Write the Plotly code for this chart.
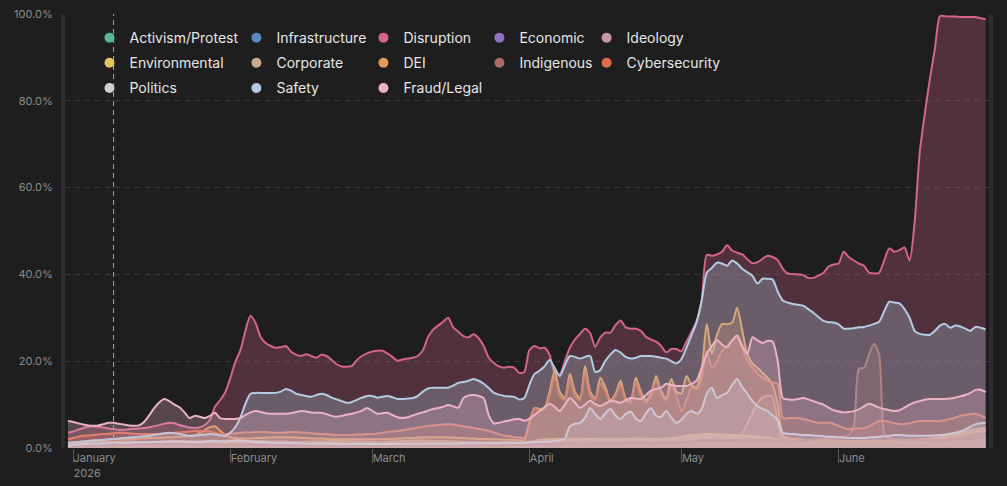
import pandas as pd
import plotly.graph_objects as go

# daily dates (Dec 31 2025 .. Jun 30 2026) for the main series
days = pd.date_range("2025-12-31", "2026-06-30", freq="D")
# ~2-day grid for the small series
days2 = pd.date_range("2025-12-31", "2026-06-30", periods=91)

disruption = [
    3.5, 3.8, 4.2, 4.6, 4.9, 5.0, 4.9, 4.7, 4.5, 4.3, 4.2,
    4.2, 4.3, 4.4, 4.5, 4.6, 4.8, 5.0, 5.3, 5.6, 5.8,
    5.7, 5.3, 5.0, 4.7, 4.6, 4.8, 5.3, 6.5, 9.5, 11.0,
    12.8, 16.0, 19.8, 22.5, 27.0, 30.5, 28.8, 25.6, 24.2, 23.5,
    23.1, 23.2, 23.5, 22.2, 21.5, 21.2, 21.6, 21.2, 20.8, 21.5,
    21.2, 20.3, 19.3, 18.8, 18.7, 18.9, 20.3, 21.2, 21.8, 22.2,
    22.4, 22.4, 21.8, 21.0, 20.1, 20.4, 20.6, 20.8, 21.2, 22.5,
    25.5, 27.2, 28.2, 29.1, 30.0, 27.8, 26.8, 25.8, 25.5, 26.2,
    25.3, 23.5, 20.8, 19.6, 18.8, 18.5, 18.7, 18.5, 17.3, 17.5,
    22.5, 23.5, 23.0, 23.1, 21.5, 17.3, 17.0, 20.0, 23.1, 25.0,
    26.3, 27.5, 26.5, 23.3, 25.5, 26.6, 26.6, 28.3, 29.4, 27.8,
    27.5, 27.5, 27.0, 25.6, 25.0, 24.5, 23.5, 22.0, 22.8, 22.8,
    22.3, 24.5, 26.8, 29.3, 34.0, 44.5, 44.3, 44.6, 45.2, 46.7,
    45.5, 45.0, 44.6, 43.5, 42.6, 42.8, 43.6, 44.3, 44.0, 43.3,
    41.3, 40.2, 40.1, 40.0, 39.9, 39.2, 39.2, 39.7, 40.3, 41.8,
    42.3, 42.5, 45.2, 44.0, 43.2, 42.5, 42.0, 40.4, 40.2, 40.4,
    43.2, 46.0, 45.2, 45.6, 46.2, 43.2, 52.0, 68.0, 77.0, 85.0,
    92.0, 99.5, 99.5, 99.4, 99.4, 99.3, 99.3, 99.3, 99.3, 99.0, 98.8,
]

safety = [
    1.2, 1.3, 1.4, 1.5, 1.6, 1.7, 1.8, 1.9, 2.0, 2.1, 2.2,
    2.3, 2.4, 2.5, 2.6, 2.7, 2.8, 3.0, 3.2, 3.4, 3.5,
    3.4, 3.2, 3.0, 2.8, 2.8, 3.0, 3.1, 3.2, 3.1, 2.9,
    2.8, 3.5, 4.8, 7.0, 10.2, 12.5, 12.7, 12.7, 12.7, 12.7,
    12.7, 13.0, 13.6, 13.2, 12.5, 12.2, 12.0, 11.8, 12.2, 12.5,
    12.2, 11.6, 11.2, 10.8, 10.4, 10.6, 11.1, 11.6, 12.0, 12.0,
    11.6, 11.8, 12.0, 11.7, 11.3, 11.3, 11.4, 11.5, 12.0, 13.0,
    13.7, 13.9, 13.9, 13.9, 13.9, 14.4, 15.0, 15.2, 15.5, 15.9,
    15.5, 14.8, 13.8, 12.7, 12.3, 12.0, 11.9, 11.8, 11.2, 11.5,
    14.5, 17.0, 17.8, 18.8, 20.3, 18.5, 16.6, 19.0, 21.2, 21.0,
    20.6, 21.0, 21.2, 17.5, 18.0, 20.1, 21.5, 22.6, 22.0, 21.0,
    20.6, 20.8, 21.2, 21.2, 21.2, 21.0, 20.8, 20.6, 20.0, 19.5,
    20.5, 23.1, 26.0, 29.0, 34.0, 40.4, 41.5, 42.7, 42.5, 42.0,
    43.2, 42.5, 41.3, 40.5, 39.7, 37.9, 39.0, 39.0, 38.8, 36.0,
    34.0, 33.5, 33.2, 33.0, 32.8, 32.0, 31.2, 30.2, 29.3, 29.0,
    28.9, 28.5, 27.5, 27.5, 27.6, 27.8, 27.9, 28.2, 28.6, 29.1,
    31.5, 33.7, 33.5, 33.3, 32.0, 30.0, 27.0, 26.3, 26.1, 26.1,
    27.0, 28.2, 28.6, 27.7, 28.2, 28.0, 27.5, 27.0, 27.9, 27.7, 27.3,
]

fraud_legal = [
    6.2, 6.0, 5.7, 5.4, 5.2, 5.1, 5.2, 5.5, 5.8, 5.8, 5.6,
    5.4, 5.2, 5.1, 5.2, 6.0, 7.5, 9.2, 10.5, 11.3, 10.8,
    10.0, 9.4, 8.2, 6.9, 7.4, 7.2, 6.9, 7.4, 8.1, 6.9,
    6.7, 6.7, 6.7, 6.9, 7.6, 8.2, 8.5, 8.3, 8.0, 7.9,
    7.9, 7.9, 7.9, 8.0, 8.3, 8.5, 8.4, 8.2, 8.1, 8.1,
    7.8, 7.4, 7.2, 7.4, 7.7, 7.9, 8.2, 8.6, 9.2, 8.6,
    7.9, 8.0, 8.1, 7.6, 7.1, 6.9, 7.1, 7.5, 7.9, 8.2,
    8.6, 9.0, 9.2, 9.5, 9.9, 9.6, 9.3, 11.5, 12.1, 12.2,
    12.0, 11.5, 7.5, 5.7, 5.8, 6.1, 6.3, 6.6, 6.7, 6.3,
    6.7, 7.6, 8.5, 9.4, 10.2, 9.5, 8.5, 10.0, 11.5, 10.5,
    9.2, 10.0, 10.9, 10.1, 9.7, 10.2, 10.9, 10.7, 10.4, 11.0,
    11.5, 11.4, 11.3, 12.2, 13.2, 13.6, 13.9, 14.8, 14.5, 14.3,
    14.3, 14.3, 14.8, 15.5, 18.5, 21.7, 23.5, 24.9, 23.8, 23.2,
    24.8, 25.9, 23.5, 21.7, 25.5, 24.8, 24.2, 24.7, 24.5, 20.0,
    11.5, 11.2, 11.1, 11.3, 11.5, 11.2, 10.8, 10.4, 10.0, 9.3,
    8.7, 8.4, 8.2, 8.3, 8.5, 8.9, 9.6, 10.2, 9.8, 9.3,
    9.0, 8.7, 8.5, 8.7, 9.3, 10.0, 10.5, 10.8, 11.1, 11.3,
    11.3, 11.3, 11.3, 11.4, 11.6, 11.9, 12.2, 12.7, 13.4, 13.4, 12.9,
]

politics = [
    0.6, 0.7, 0.8, 0.9, 1.0, 1.0, 1.0, 1.1, 1.1, 1.2, 1.2,
    1.2, 1.2, 1.3, 1.3, 1.3, 1.4, 1.4, 1.4, 1.5, 1.5,
    1.5, 1.5, 1.4, 1.4, 1.4, 1.4, 1.5, 1.6, 1.6, 1.5,
    1.5, 1.6, 1.7, 1.7, 1.6, 1.5, 1.4, 1.3, 1.3, 1.2,
    1.2, 1.2, 1.2, 1.1, 1.1, 1.1, 1.0, 1.0, 1.0, 1.0,
    1.0, 1.0, 0.9, 0.9, 0.9, 0.9, 0.9, 0.9, 0.9, 0.9,
    0.9, 0.9, 0.9, 0.9, 0.9, 0.9, 1.0, 1.0, 1.0, 1.0,
    1.0, 1.0, 1.0, 1.0, 1.0, 1.0, 1.0, 1.1, 1.1, 1.1,
    1.1, 1.1, 1.1, 1.1, 1.1, 1.2, 1.2, 1.2, 1.2, 1.2,
    1.3, 1.3, 1.4, 1.4, 1.5, 1.6, 1.8, 2.2, 5.0, 5.6,
    5.8, 7.0, 9.2, 7.8, 6.7, 8.0, 9.0, 7.5, 6.7, 7.8,
    8.4, 6.8, 6.2, 8.0, 9.2, 7.4, 7.2, 8.5, 7.0, 5.8,
    6.5, 7.9, 8.5, 7.9, 9.0, 12.5, 13.9, 11.5, 12.2, 12.7,
    14.5, 15.9, 14.0, 12.5, 10.8, 9.7, 9.0, 8.5, 7.5, 6.5,
    3.5, 3.3, 3.2, 3.1, 3.0, 3.0, 2.9, 2.8, 2.7, 2.6,
    2.6, 2.5, 2.4, 2.3, 2.3, 2.3, 2.3, 2.4, 2.5, 2.6,
    2.7, 2.8, 3.0, 3.0, 2.9, 2.8, 2.8, 2.8, 2.8, 2.8,
    2.9, 3.0, 3.1, 3.3, 3.5, 3.8, 4.3, 4.9, 5.5, 5.7, 5.8,
]

dei = [
    1.0, 1.2, 1.4, 1.5, 1.6, 1.7, 1.8, 1.8, 1.9, 2.0, 2.0,
    2.0, 2.1, 2.1, 2.2, 2.2, 2.3, 2.3, 2.4, 2.4, 2.5,
    2.5, 2.6, 2.7, 2.8, 3.0, 3.5, 4.2, 4.8, 5.0, 4.0,
    3.0, 2.5, 2.3, 2.2, 2.2, 2.2, 2.3, 2.3, 2.4, 2.4,
    2.5, 2.5, 2.5, 2.4, 2.4, 2.3, 2.3, 2.2, 2.2, 2.2,
    2.1, 2.1, 2.0, 2.0, 2.0, 2.0, 2.0, 2.0, 2.0, 2.0,
    2.0, 2.0, 2.1, 2.1, 2.2, 2.2, 2.3, 2.3, 2.4, 2.4,
    2.5, 2.5, 2.5, 2.5, 2.4, 2.4, 2.3, 2.3, 2.2, 2.2,
    2.1, 2.1, 2.0, 2.0, 2.0, 1.9, 1.9, 1.9, 1.8, 1.8,
    6.0, 9.2, 9.0, 9.2, 13.0, 17.8, 13.0, 11.5, 17.1, 13.0,
    11.5, 18.9, 13.0, 11.5, 16.2, 14.0, 11.0, 12.5, 15.5, 11.5,
    11.0, 16.2, 13.0, 11.0, 12.5, 16.6, 13.0, 11.5, 15.9, 13.0,
    12.5, 16.6, 14.5, 13.9, 18.0, 28.6, 21.7, 26.0, 28.6, 28.5,
    28.9, 32.3, 27.0, 21.7, 19.5, 18.5, 17.3, 16.2, 14.5, 10.0,
    2.8, 2.3, 2.1, 2.0, 1.9, 1.8, 1.8, 1.7, 1.7, 1.7,
    1.7, 1.7, 1.6, 1.6, 1.6, 1.6, 1.6, 1.6, 1.7, 1.7,
    1.7, 1.7, 1.8, 1.8, 1.8, 1.9, 1.9, 2.0, 2.0, 2.1,
    2.2, 2.3, 2.4, 2.6, 2.8, 3.0, 3.2, 3.5, 3.8, 4.0, 4.2,
]

cybersecurity = [
    2.0, 2.3, 2.6, 2.8, 2.9, 3.0, 3.1, 3.2, 3.3, 3.4, 3.5,
    3.5, 3.4, 3.3, 3.2, 3.2, 3.2, 3.2, 3.2, 3.3, 3.4,
    3.5, 3.6, 3.7, 3.8, 3.9, 3.9, 3.9, 3.8, 3.5, 3.2,
    3.2, 3.3, 3.4, 3.5, 3.6, 3.6, 3.7, 3.7, 3.7, 3.6,
    3.5, 3.5, 3.6, 3.7, 3.7, 3.6, 3.5, 3.4, 3.3, 3.2,
    3.2, 3.1, 3.0, 3.0, 3.0, 3.0, 3.1, 3.1, 3.2, 3.2,
    3.3, 3.5, 3.7, 3.8, 3.9, 4.1, 4.3, 4.5, 4.7, 4.9,
    5.1, 5.2, 5.3, 5.4, 5.5, 5.4, 5.2, 5.0, 4.8, 4.6,
    4.4, 4.2, 3.9, 3.6, 3.2, 2.9, 2.7, 2.5, 2.4, 2.3,
    5.5, 9.0, 8.8, 9.0, 12.0, 16.5, 12.0, 11.0, 16.0, 12.0,
    11.0, 17.5, 12.0, 11.0, 15.0, 13.0, 10.5, 12.0, 14.5, 11.0,
    10.5, 15.0, 12.0, 10.5, 12.0, 15.5, 12.5, 11.0, 14.5, 12.0,
    8.5, 11.0, 13.9, 13.5, 16.0, 22.4, 18.5, 20.0, 22.4, 23.5,
    24.8, 25.4, 23.0, 20.1, 18.5, 17.1, 16.2, 15.5, 15.1, 14.8,
    6.9, 6.9, 6.9, 6.9, 6.7, 6.4, 6.1, 5.8, 5.8, 5.8,
    5.6, 5.1, 4.6, 4.4, 4.4, 4.5, 4.6, 5.0, 5.6, 6.2,
    6.2, 6.0, 5.7, 5.5, 5.5, 5.7, 6.0, 6.2, 6.2, 6.2,
    6.2, 6.2, 6.4, 6.7, 7.0, 7.4, 7.6, 7.8, 7.9, 7.5, 6.9,
]

indigenous = [
    0.5, 0.5, 0.6, 0.6, 0.6, 0.7, 0.7, 0.7, 0.7, 0.8, 0.8,
    0.8, 0.8, 0.8, 0.9, 0.9, 0.9, 0.9, 0.9, 0.9, 0.9,
    0.9, 0.9, 0.9, 0.8, 0.8, 0.8, 0.8, 0.8, 0.8, 0.8,
    0.8, 0.8, 0.8, 0.7, 0.7, 0.7, 0.7, 0.7, 0.7, 0.7,
    0.7, 0.7, 0.7, 0.7, 0.7, 0.6, 0.6, 0.6, 0.6, 0.6,
    0.6, 0.6, 0.6, 0.6, 0.6, 0.6, 0.6, 0.6, 0.6, 0.6,
    0.6, 0.6, 0.6, 0.6, 0.7, 0.7, 0.7, 0.7, 0.7, 0.7,
    0.7, 0.7, 0.7, 0.7, 0.7, 0.7, 0.7, 0.7, 0.7, 0.7,
    0.7, 0.7, 0.7, 0.7, 0.7, 0.7, 0.7, 0.7, 0.7, 0.7,
    0.8, 0.9, 0.9, 0.9, 1.0, 1.0, 1.0, 1.0, 1.0, 1.0,
    1.0, 1.0, 1.0, 1.0, 1.0, 1.1, 1.1, 1.1, 1.1, 1.1,
    1.1, 1.1, 1.1, 1.1, 1.1, 1.2, 1.2, 1.2, 1.2, 1.2,
    1.3, 1.4, 1.5, 1.6, 1.7, 1.8, 1.8, 1.8, 1.8, 1.8,
    1.8, 1.8, 1.8, 1.8, 1.8, 1.8, 1.8, 1.8, 1.8, 1.7,
    1.5, 1.5, 1.5, 1.6, 1.7, 1.8, 1.9, 2.0, 2.1, 2.2,
    2.3, 2.5, 2.7, 3.0, 5.0, 18.2, 18.5, 21.5, 24.0, 21.5,
    3.5, 2.2, 2.0, 1.9, 1.9, 1.8, 1.8, 1.8, 1.8, 1.8,
    1.8, 1.8, 1.8, 1.9, 1.9, 2.0, 2.0, 2.1, 2.2, 2.3, 2.4,
]

activism = [
    0.3, 0.4, 0.4, 0.5, 0.5, 0.5, 0.6, 0.5, 0.5, 0.5,
    0.6, 0.6, 0.5, 0.5, 0.6, 0.7, 0.8, 0.8, 0.7, 0.7,
    0.6, 0.6, 0.6, 0.7, 0.7, 0.6, 0.6, 0.5, 0.5, 0.6,
    0.6, 0.6, 0.7, 0.7, 0.7, 0.6, 0.6, 0.6, 0.5, 0.5,
    0.5, 0.6, 0.6, 0.6, 0.5, 0.6, 0.8, 0.9, 0.9, 0.8,
    0.8, 0.9, 0.9, 0.8, 0.8, 0.9, 0.9, 0.8, 0.8, 0.9,
    1.0, 1.1, 1.2, 1.2, 1.1, 1.1, 1.0, 1.0, 0.9, 0.9,
    0.8, 0.7, 0.7, 0.6, 0.6, 0.6, 0.6, 0.7, 0.7, 0.7,
    0.7, 0.7, 0.8, 0.8, 0.8, 0.9, 0.9, 1.0, 1.1, 1.2,
    1.2,
]

infrastructure = [
    0.5, 0.5, 0.6, 0.6, 0.7, 0.7, 0.6, 0.6, 0.6, 0.7,
    0.7, 0.8, 0.8, 0.7, 0.7, 0.6, 0.7, 0.8, 0.8, 0.8,
    0.7, 0.7, 0.6, 0.6, 0.6, 0.7, 0.7, 0.7, 0.6, 0.6,
    0.6, 0.7, 0.7, 0.8, 0.8, 0.8, 0.7, 0.7, 0.6, 0.6,
    0.6, 0.6, 0.7, 0.7, 0.6, 0.6, 0.7, 0.8, 0.8, 0.8,
    0.9, 0.9, 0.8, 0.8, 0.9, 1.0, 1.0, 0.9, 0.9, 1.0,
    1.1, 1.2, 1.3, 1.3, 1.2, 1.2, 1.1, 1.0, 1.0, 0.9,
    0.8, 0.8, 0.7, 0.7, 0.7, 0.7, 0.8, 0.8, 0.8, 0.8,
    0.8, 0.9, 0.9, 0.9, 1.0, 1.0, 1.1, 1.2, 1.3, 1.4,
    1.4,
]

economic = [
    0.3, 0.3, 0.4, 0.4, 0.4, 0.5, 0.5, 0.5, 0.4, 0.4,
    0.4, 0.5, 0.5, 0.5, 0.6, 0.6, 0.5, 0.5, 0.5, 0.5,
    0.5, 0.5, 0.4, 0.4, 0.5, 0.5, 0.5, 0.6, 0.6, 0.5,
    0.5, 0.5, 0.6, 0.6, 0.7, 0.7, 0.8, 0.8, 0.7, 0.7,
    0.7, 0.6, 0.6, 0.6, 0.6, 0.6, 0.9, 1.0, 1.1, 1.1,
    1.2, 1.2, 1.1, 1.2, 1.3, 1.3, 1.4, 1.4, 1.3, 1.4,
    1.6, 1.9, 2.1, 2.2, 2.2, 2.1, 2.0, 1.9, 1.9, 1.8,
    1.1, 0.9, 0.8, 0.8, 0.7, 0.7, 0.7, 0.7, 0.8, 0.8,
    0.8, 0.8, 0.9, 0.9, 0.9, 1.0, 1.0, 1.1, 1.2, 1.3,
    1.3,
]

ideology = [
    1.0, 1.1, 1.2, 1.2, 1.3, 1.3, 1.2, 1.2, 1.3, 1.4,
    1.5, 1.5, 1.4, 1.3, 1.3, 1.4, 1.5, 1.5, 1.4, 1.4,
    1.3, 1.3, 1.2, 1.2, 1.3, 1.3, 1.4, 1.4, 1.3, 1.3,
    1.2, 1.2, 1.3, 1.4, 1.5, 1.6, 1.6, 1.5, 1.4, 1.3,
    1.3, 1.2, 1.2, 1.1, 1.1, 1.2, 1.5, 1.7, 1.8, 1.8,
    1.9, 1.9, 1.8, 1.8, 1.9, 2.0, 2.0, 1.9, 1.9, 2.0,
    2.2, 2.4, 2.6, 2.6, 2.5, 2.5, 3.0, 7.5, 11.5, 12.0,
    2.5, 1.6, 1.4, 1.3, 1.2, 1.2, 1.2, 1.2, 1.3, 1.3,
    1.3, 1.3, 1.4, 1.4, 1.4, 1.5, 1.6, 1.7, 1.8, 2.0,
    2.1,
]

environmental = [
    0.8, 0.9, 1.0, 1.0, 1.1, 1.1, 1.2, 1.2, 1.1, 1.1,
    1.2, 1.2, 1.3, 1.3, 1.2, 1.2, 1.3, 1.4, 1.4, 1.3,
    1.3, 1.2, 1.2, 1.2, 1.3, 1.3, 1.2, 1.2, 1.2, 1.3,
    1.3, 1.4, 1.4, 1.5, 1.5, 1.4, 1.4, 1.3, 1.3, 1.2,
    1.2, 1.2, 1.1, 1.1, 1.1, 1.2, 1.8, 2.0, 2.1, 2.0,
    2.0, 2.1, 2.1, 2.0, 2.0, 2.1, 2.2, 2.1, 2.0, 2.2,
    2.5, 2.9, 3.1, 3.2, 3.1, 3.0, 2.9, 2.7, 2.5, 2.3,
    1.6, 1.4, 1.3, 1.2, 1.2, 1.2, 1.2, 1.3, 1.3, 1.4,
    1.4, 1.4, 1.5, 1.6, 1.8, 2.0, 2.3, 2.8, 3.3, 3.8,
    4.0,
]

corporate = [
    1.2, 1.3, 1.3, 1.4, 1.4, 1.5, 1.5, 1.4, 1.4, 1.5,
    1.5, 1.6, 1.6, 1.5, 1.5, 1.6, 1.7, 1.7, 1.6, 1.6,
    1.5, 1.5, 1.4, 1.4, 1.5, 1.5, 1.6, 1.6, 1.5, 1.5,
    1.4, 1.4, 1.5, 1.6, 1.7, 1.7, 1.6, 1.6, 1.5, 1.4,
    1.4, 1.3, 1.3, 1.3, 1.2, 1.3, 1.6, 1.8, 1.9, 1.9,
    1.8, 1.9, 2.0, 1.9, 1.9, 2.0, 2.1, 2.0, 1.9, 2.1,
    2.3, 2.6, 2.8, 2.9, 2.8, 2.7, 2.6, 2.5, 2.3, 2.2,
    1.5, 1.4, 1.3, 1.3, 1.3, 1.3, 1.4, 1.4, 1.5, 1.5,
    1.6, 1.6, 1.7, 1.8, 2.0, 2.3, 2.7, 3.2, 3.8, 4.3,
    4.6,
]

# name, values, dates, colour (legend order)
series = [
    ("Activism/Protest", activism, days2, "#5db592"),
    ("Infrastructure", infrastructure, days2, "#5b87c2"),
    ("Disruption", disruption, days, "#d4648c"),
    ("Economic", economic, days2, "#9171c4"),
    ("Ideology", ideology, days2, "#c894a6"),
    ("Environmental", environmental, days2, "#e2c35f"),
    ("Corporate", corporate, days2, "#c4ac8a"),
    ("DEI", dei, days, "#e39a55"),
    ("Indigenous", indigenous, days, "#a86b62"),
    ("Cybersecurity", cybersecurity, days, "#e06c4f"),
    ("Politics", politics, days, "#ccd0d6"),
    ("Safety", safety, days, "#b3cbe3"),
    ("Fraud/Legal", fraud_legal, days, "#ebb3c4"),
]

legend_columns = [
    ["Activism/Protest", "Environmental", "Politics"],
    ["Infrastructure", "Corporate", "Safety"],
    ["Disruption", "DEI", "Fraud/Legal"],
    ["Economic", "Indigenous"],
    ["Ideology", "Cybersecurity"],
]
legend_x = [0.0265, 0.1855, 0.323, 0.4485, 0.5645]

def rgba(hex_color, a):
    h = hex_color.lstrip("#")
    r, g, b = int(h[0:2], 16), int(h[2:4], 16), int(h[4:6], 16)
    return f"rgba({r},{g},{b},{a})"

fig = go.Figure()
for name, vals, x, col in series:
    fig.add_trace(go.Scatter(
        x=x, y=vals, name=name, mode="lines",
        line=dict(color=col, width=2, shape="spline", smoothing=0.7),
        fill="tozeroy", fillcolor=rgba(col, 0.28),
        showlegend=False, hoverinfo="skip",
    ))

color_of = {s[0]: s[3] for s in series}
for ci, col_names in enumerate(legend_columns):
    lname = "legend" if ci == 0 else f"legend{ci + 1}"
    for nm in col_names:
        fig.add_trace(go.Scatter(
            x=[None], y=[None], mode="markers", name=nm,
            marker=dict(color=color_of[nm], size=10),
            legend=lname, legendgroup=nm, showlegend=True,
        ))

legend_common = dict(
    orientation="v", xanchor="left", yanchor="top", y=0.9815,
    bgcolor="rgba(0,0,0,0)", borderwidth=0,
    font=dict(family="Inter", size=14, color="#e6e6e6"),
    tracegroupgap=4, itemwidth=30, traceorder="grouped",
)
layout_legends = {}
for ci in range(len(legend_columns)):
    lname = "legend" if ci == 0 else f"legend{ci + 1}"
    layout_legends[lname] = dict(legend_common, x=legend_x[ci])

fig.update_layout(
    width=1007, height=486,
    margin=dict(l=65, r=18, t=14, b=38, autoexpand=False),
    paper_bgcolor="#1e1e1e", plot_bgcolor="#1e1e1e",
    font=dict(family="Inter", color="#8c8c8c", size=11),
    showlegend=True,
    **layout_legends,
)

fig.update_xaxes(
    range=["2025-12-30 10:00", "2026-06-30 16:00"],
    tick0="2026-01-01", dtick="M1", tickformat="%B\n%Y",
    ticks="outside", ticklen=14, tickcolor="#5a5a5e", tickwidth=1,
    ticklabelposition="outside right", automargin=False,
    showgrid=False, zeroline=False, showline=False,
    tickfont=dict(family="Inter", size=11, color="#8c8c8c"),
)
fig.update_yaxes(
    range=[0, 100], dtick=20, tickformat=".1f", ticksuffix="%",
    showgrid=True, gridcolor="#3a3a3e", griddash="5px,5px", gridwidth=1,
    zeroline=False, showline=True, linecolor="#2c2c30", linewidth=4, mirror=True,
    ticks="", ticklabelstandoff=6, automargin=False,
    tickfont=dict(family="Inter", size=11, color="#8c8c8c"),
)

fig.add_shape(
    type="line", xref="x", yref="paper",
    x0="2026-01-09", x1="2026-01-09", y0=0, y1=1,
    line=dict(color="#a3a8bb", width=1, dash="5px,4px"),
)

fig.write_html("out.html")
